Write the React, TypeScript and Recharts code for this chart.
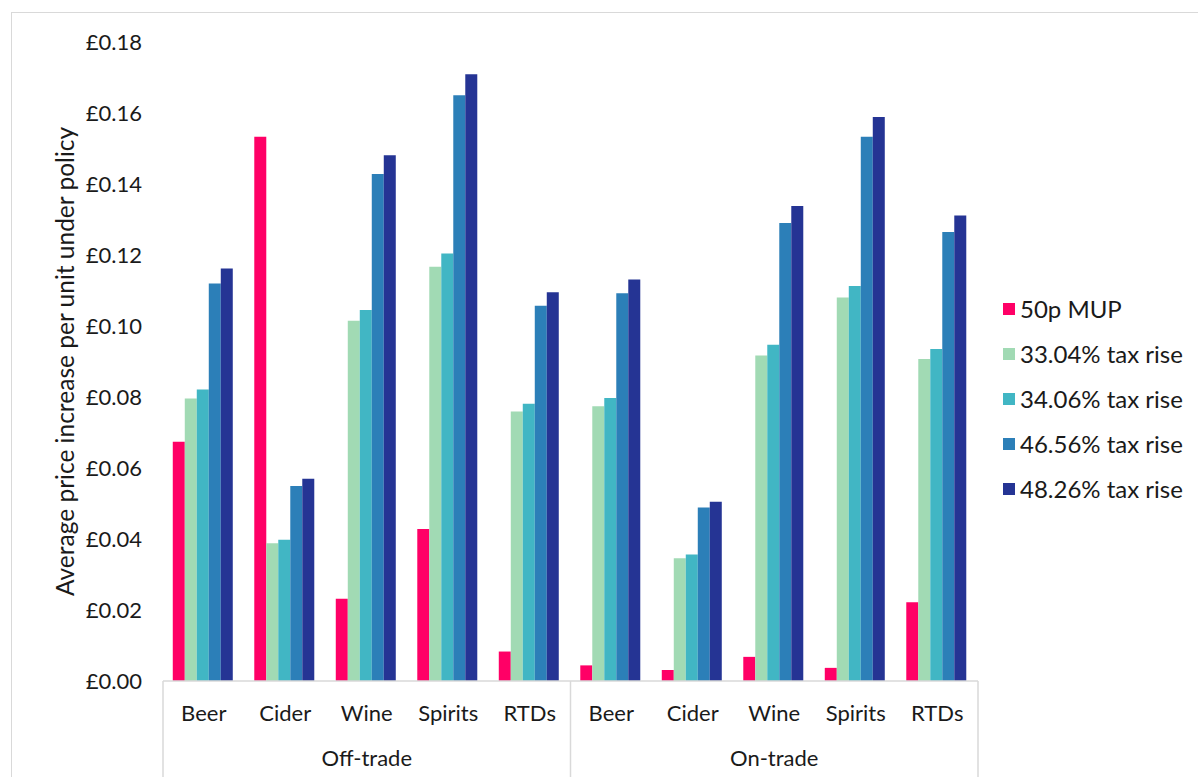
import { BarChart, Bar, XAxis, YAxis } from "recharts";

// Average price increase per unit, by drink type and trade channel
const categories = ["Beer", "Cider", "Wine", "Spirits", "RTDs", "Beer", "Cider", "Wine", "Spirits", "RTDs"];
const channels = [
  "Off-trade", "Off-trade", "Off-trade", "Off-trade", "Off-trade",
  "On-trade", "On-trade", "On-trade", "On-trade", "On-trade",
];

const mup50p = [0.0674, 0.1533, 0.0232, 0.0428, 0.0083, 0.0044, 0.0031, 0.0068, 0.0037, 0.0222];
const tax3304 = [0.0796, 0.0388, 0.1015, 0.1167, 0.0759, 0.0774, 0.0346, 0.0917, 0.108, 0.0907];
const tax3406 = [0.0821, 0.0398, 0.1045, 0.1204, 0.0781, 0.0797, 0.0356, 0.0947, 0.1113, 0.0935];
const tax4656 = [0.112, 0.0549, 0.1428, 0.165, 0.1057, 0.1092, 0.0489, 0.129, 0.1533, 0.1265];
const tax4826 = [0.1162, 0.057, 0.1481, 0.1709, 0.1095, 0.1131, 0.0505, 0.1338, 0.1589, 0.1311];

const yTicks = [0, 0.02, 0.04, 0.06, 0.08, 0.1, 0.12, 0.14, 0.16, 0.18];

const series = [
  { key: "mup", name: "50p MUP", color: "#FF0066", values: mup50p },
  { key: "t3304", name: "33.04% tax rise", color: "#A1DAB4", values: tax3304 },
  { key: "t3406", name: "34.06% tax rise", color: "#41B6C4", values: tax3406 },
  { key: "t4656", name: "46.56% tax rise", color: "#2C7FB8", values: tax4656 },
  { key: "t4826", name: "48.26% tax rise", color: "#253494", values: tax4826 },
];

const FONT = "Lato, 'Open Sans', sans-serif";
const TEXT = "#1a1a1a";
const RULE = "#d9d9d9";

const W = 1198;
const H = 777;
const PLOT_LEFT = 163;
const PLOT_RIGHT = 978;
const BAND = (PLOT_RIGHT - PLOT_LEFT) / categories.length;

const data = categories.map((cat, i) => {
  const row: any = { cat, channel: channels[i] };
  for (const s of series) row[s.key] = s.values[i];
  return row;
});

function CategoryTick(props: any) {
  const { x, y, payload, index } = props;
  return (
    <g>
      <text
        x={x}
        y={y + 31}
        textAnchor="middle"
        dominantBaseline="central"
        fontFamily={FONT}
        fontSize={22}
        fill={TEXT}
      >
        {payload.value}
      </text>
      {index % 5 === 0 && (
        <line x1={x - BAND / 2} x2={x - BAND / 2} y1={y} y2={H} stroke={RULE} strokeWidth={1.5} />
      )}
      {index === categories.length - 1 && (
        <line x1={x + BAND / 2} x2={x + BAND / 2} y1={y} y2={H} stroke={RULE} strokeWidth={1.5} />
      )}
    </g>
  );
}

function ChannelTick(props: any) {
  const { x, y, payload, index } = props;
  // label sits under the middle category of each group of five
  if (index % 5 !== 2) return <g />;
  return (
    <text
      x={x}
      y={y + 26}
      textAnchor="middle"
      dominantBaseline="central"
      fontFamily={FONT}
      fontSize={22}
      fill={TEXT}
    >
      {payload.value}
    </text>
  );
}

function YTitle(props: any) {
  const vb = props.viewBox || { x: 63, y: 42, width: 100, height: 639 };
  const cx = vb.x + 1;
  const cy = vb.y + vb.height / 2;
  return (
    <text
      transform={`translate(${cx} ${cy}) rotate(-90)`}
      textAnchor="middle"
      dominantBaseline="central"
      fontFamily={FONT}
      fontSize={24.5}
      fill={TEXT}
    >
      Average price increase per unit under policy
    </text>
  );
}

export default function App() {
  return (
    <div style={{ position: "fixed", left: 0, top: 0, width: W, height: H, background: "#fff", overflow: "hidden" }}>
      <div
        style={{
          position: "absolute",
          left: 11,
          top: 12,
          width: W,
          height: H,
          borderLeft: `1.5px solid ${RULE}`,
          borderTop: `1.5px solid ${RULE}`,
        }}
      />
      <div style={{ position: "absolute", left: 0, top: 0 }}>
        <BarChart
          width={W}
          height={H}
          data={data}
          margin={{ top: 42, right: W - PLOT_RIGHT, left: PLOT_LEFT - 100, bottom: 0 }}
          barCategoryGap="12%"
          barGap={0}
        >
          <XAxis
            dataKey="cat"
            height={50}
            interval={0}
            axisLine={{ stroke: RULE, strokeWidth: 1.5 }}
            tickLine={false}
            tickSize={0}
            tickMargin={0}
            tick={<CategoryTick />}
          />
          <XAxis
            xAxisId="channel"
            dataKey="channel"
            height={46}
            interval={0}
            axisLine={false}
            tickLine={false}
            tickSize={0}
            tickMargin={0}
            tick={<ChannelTick />}
          />
          <YAxis
            width={100}
            domain={[0, 0.18]}
            ticks={yTicks}
            interval={0}
            axisLine={false}
            tickLine={false}
            tickSize={0}
            tickMargin={21}
            tickFormatter={(v: number) => `£${v.toFixed(2)}`}
            tick={{ fontFamily: FONT, fontSize: 22, fill: TEXT }}
            label={<YTitle />}
          />
          {series.map((s) => (
            <Bar key={s.key} dataKey={s.key} name={s.name} fill={s.color} isAnimationActive={false} />
          ))}
        </BarChart>
      </div>
      <div style={{ position: "absolute", left: 1003, top: 286, fontFamily: FONT, fontSize: 24, color: TEXT }}>
        {series.map((s) => (
          <div key={s.key} style={{ display: "flex", alignItems: "center", height: 45 }}>
            <span style={{ width: 12, height: 12, background: s.color, marginRight: 5, display: "inline-block" }} />
            <span style={{ lineHeight: "28px" }}>{s.name}</span>
          </div>
        ))}
      </div>
    </div>
  );
}
